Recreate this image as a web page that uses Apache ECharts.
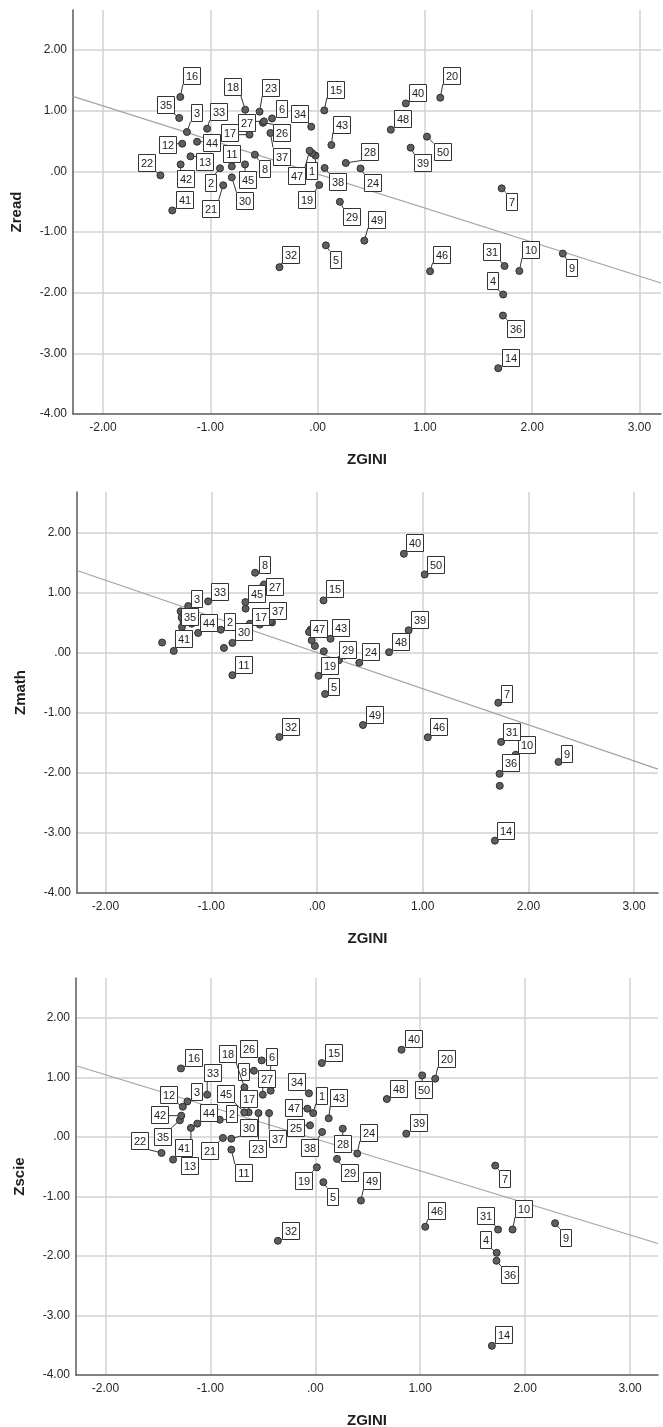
<!DOCTYPE html>
<html>
<head>
<meta charset="utf-8">
<script src="https://cdn.jsdelivr.net/npm/echarts@6/dist/echarts.min.js"></script>
<style>
html,body{margin:0;padding:0;background:#fff;}
#c{width:663px;height:1427px;}
</style>
</head>
<body>
<div id="c"></div>
<script>
// ---- data (case ids 1..50) ----
const ids = Array.from({length: 50}, (_, i) => i + 1);
const zgini = [-0.02,-0.91,-1.218,1.729,0.077,-0.425,1.715,-0.585,2.285,1.88,
  -0.80,-1.262,-1.185,1.683,0.062,-1.28,-0.635,-0.675,0.015,1.143,
  -0.88,-1.465,-0.541,0.40,-0.05,-0.51,-0.50,0.262,0.207,-0.80,
  1.742,-0.356,-1.03,-0.06,-1.29,1.727,-0.44,0.065,0.867,0.822,
  -1.355,-1.277,0.128,-1.124,-0.677,1.048,-0.075,0.682,0.435,1.019];
const zread = [0.26,0.05,0.649,-2.03,-1.22,0.873,-0.28,0.275,-1.356,-1.642,
  0.082,0.456,0.247,-3.245,1.005,1.226,0.605,1.016,-0.224,1.214,
  -0.23,-0.066,0.984,0.047,0.30,0.80,0.824,0.138,-0.502,-0.099,
  -1.56,-1.58,0.703,0.736,0.88,-2.377,0.632,0.056,0.39,1.12,
  -0.645,0.115,0.434,0.489,0.115,-1.647,0.34,0.687,-1.142,0.572];
const zmath = [0.11,0.38,0.773,-2.217,-0.69,0.50,-0.835,1.327,-1.819,-1.70,
  -0.376,0.50,0.48,-3.129,0.867,0.58,0.48,0.73,-0.387,1.45,
  0.077,0.166,0.464,-0.17,0.204,1.10,1.133,-0.05,-0.128,0.16,
  -1.487,-1.405,0.851,0.38,0.685,-2.018,0.519,0.02,0.37,1.642,
  0.027,0.425,0.229,0.325,0.839,-1.41,0.342,0.005,-1.206,1.298];
const zscie = [0.40,0.29,0.597,-1.947,-0.76,0.777,-0.482,1.112,-1.45,-1.556,
  -0.213,0.508,0.151,-3.51,1.241,1.151,0.413,0.832,-0.51,0.978,
  -0.017,-0.269,0.40,-0.28,0.195,1.285,0.71,0.139,-0.369,-0.03,
  -1.556,-1.745,0.71,0.732,0.279,-2.081,0.40,0.083,0.055,1.465,
  -0.381,0.357,0.313,0.223,0.413,-1.51,0.475,0.637,-1.069,1.034];
// fit lines (endpoints at plot edges)
const fitRead = [[-2.28, 1.235], [3.2, -1.84]];
const fitMath = [[-2.27, 1.365], [3.226, -1.94]];
const fitScie = [[-2.28, 1.196], [3.266, -1.79]];
// tick labels
const xTicks = [-2, -1, 0, 1, 2, 3];
const xTickLabels = ['-2.00', '-1.00', '.00', '1.00', '2.00', '3.00'];
const yTicks = [-4, -3, -2, -1, 0, 1, 2];
const yTickLabels = ['-4.00', '-3.00', '-2.00', '-1.00', '.00', '1.00', '2.00'];

// ---- label placement (styling: pixel offset of label box from its point) ----
const readLabelOffsets = {16:[11,-21],35:[-14,-13],3:[9,-19],33:[11,-17],12:[-15,1],44:[14,1],13:[14,5],42:[5,14],22:[-14,-13],41:[12,-11],2:[-10,14],21:[-13,23],11:[0,-13],30:[13,23],45:[2,15],8:[9,14],18:[-13,-23],23:[11,-24],6:[9,-10],27:[-18,1],26:[19,10],17:[-20,-2],37:[11,23],34:[-12,-13],47:[-13,25],1:[-4,15],19:[-13,15],38:[13,14],29:[12,15],15:[11,-21],43:[10,-21],28:[24,-11],24:[12,14],40:[12,-11],20:[11,-22],48:[12,-11],50:[15,15],39:[12,15],7:[10,13],32:[11,-13],5:[9,14],49:[12,-21],46:[11,-17],31:[-13,-14],10:[11,-21],9:[9,14],4:[-11,-14],36:[13,13],14:[12,-11]};
const mathLabelOffsets = {8:[9,-8],27:[10,2],45:[11,-9],33:[11,-10],3:[8,-8],35:[9,5],44:[10,-10],41:[10,-12],2:[9,-8],30:[11,-11],11:[11,-11],17:[11,-7],37:[7,-11],15:[11,-12],47:[9,-3],43:[10,-11],19:[11,-10],5:[8,-8],29:[9,-11],40:[11,-11],50:[11,-10],39:[11,-11],48:[11,-11],24:[11,-11],7:[8,-9],49:[11,-11],32:[11,-10],46:[11,-11],31:[10,-10],10:[11,-10],9:[8,-8],36:[11,-11],14:[11,-10]};
const scieLabelOffsets = {16:[13,-11],12:[-14,-12],3:[9,-10],33:[5,-22],42:[-22,-1],35:[-17,16],22:[-22,-12],41:[10,-12],13:[-1,38],44:[11,-11],45:[-19,-19],2:[12,-6],30:[17,-11],21:[-13,13],11:[12,23],18:[-17,-34],26:[-13,-12],6:[1,-34],8:[-11,1],27:[4,-16],17:[0,-14],23:[-1,35],37:[8,25],34:[-13,-12],47:[-14,-1],1:[8,-18],25:[-15,2],38:[-13,16],19:[-13,13],5:[9,14],15:[12,-11],43:[10,-21],28:[0,15],29:[12,14],24:[11,-21],40:[12,-11],20:[11,-20],50:[1,14],48:[12,-11],39:[12,-11],7:[9,13],49:[11,-20],46:[11,-16],32:[13,-10],31:[-13,-14],10:[11,-21],9:[10,14],4:[-11,-13],36:[13,14],14:[12,-11]};

const FONT = '"Liberation Sans", Arial, Helvetica, sans-serif';
const grids = [
  {left: 73, top: 10, width: 588, height: 404, containLabel: false, outerBoundsMode: 'none'},
  {left: 77, top: 492, width: 581, height: 401, containLabel: false, outerBoundsMode: 'none'},
  {left: 76, top: 978, width: 582, height: 397, containLabel: false, outerBoundsMode: 'none'}
];
const xRanges = [[-2.28, 3.2], [-2.27, 3.226], [-2.28, 3.266]];
const yRanges = [[-4, 2.66], [-4, 2.67], [-4, 2.67]];
const yNames = ['Zread', 'Zmath', 'Zscie'];
const ySets = [zread, zmath, zscie];
const fits = [fitRead, fitMath, fitScie];
const offsetSets = [readLabelOffsets, mathLabelOffsets, scieLabelOffsets];

function tickFmt(ticks, labels) {
  return function (v) {
    const i = ticks.findIndex(t => Math.abs(t - v) < 1e-6);
    return i >= 0 ? labels[i] : '';
  };
}

const xAxes = [], yAxes = [], series = [];
grids.forEach((g, gi) => {
  xAxes.push({
    type: 'value', gridIndex: gi, min: xRanges[gi][0], max: xRanges[gi][1],
    minInterval: 1, maxInterval: 1, splitNumber: 5,
    axisLine: {show: true, onZero: false, lineStyle: {color: '#5a5a5a', width: 1.5}},
    axisTick: {show: false},
    splitLine: {show: true, showMinLine: false, showMaxLine: false, lineStyle: {color: '#d2d2d2', width: 1.5}},
    axisLabel: {formatter: tickFmt(xTicks, xTickLabels), color: '#262626', fontSize: 12, fontFamily: FONT, margin: 8, showMinLabel: true, showMaxLabel: true},
    name: 'ZGINI', nameLocation: 'middle', nameGap: 38,
    nameTextStyle: {fontWeight: 'bold', fontSize: 15, color: '#1e1e1e', fontFamily: FONT}
  });
  yAxes.push({
    type: 'value', gridIndex: gi, min: yRanges[gi][0], max: yRanges[gi][1],
    minInterval: 1, maxInterval: 1, splitNumber: 6,
    axisLine: {show: true, onZero: false, lineStyle: {color: '#5a5a5a', width: 1.5}},
    axisTick: {show: false},
    splitLine: {show: true, showMinLine: false, showMaxLine: false, lineStyle: {color: '#d2d2d2', width: 1.5}},
    axisLabel: {formatter: tickFmt(yTicks, yTickLabels), color: '#262626', fontSize: 12, fontFamily: FONT, margin: 6, showMinLabel: true, showMaxLabel: true},
    name: yNames[gi], nameLocation: 'middle', nameGap: 49,
    nameTextStyle: {fontWeight: 'bold', fontSize: 15, color: '#1e1e1e', fontFamily: FONT}
  });
  // fit line
  series.push({
    type: 'line', xAxisIndex: gi, yAxisIndex: gi, data: fits[gi], symbol: 'none',
    silent: true, z: 2, lineStyle: {color: '#a3a3a3', width: 1.2}
  });
  // points
  series.push({
    type: 'scatter', xAxisIndex: gi, yAxisIndex: gi, z: 3, silent: true,
    data: zgini.map((x, i) => [x, ySets[gi][i]]),
    symbol: 'circle', symbolSize: 7,
    itemStyle: {color: '#5e5e5e', borderColor: '#2e2e2e', borderWidth: 1, opacity: 1}
  });
  // labels with leader lines
  const offs = offsetSets[gi];
  series.push({
    type: 'custom', xAxisIndex: gi, yAxisIndex: gi, z: 5, silent: true, clip: false,
    data: zgini.map((x, i) => [x, ySets[gi][i], ids[i]]),
    encode: {x: 0, y: 1},
    renderItem: function (params, api) {
      const id = api.value(2);
      const off = offs[id];
      if (!off) return null;
      const p = api.coord([api.value(0), api.value(1)]);
      const cx = p[0] + off[0], cy = p[1] + off[1];
      const txt = String(id);
      const w = txt.length * 6.2 + 4.5, h = 17;
      const bx = Math.max(cx - w / 2, Math.min(p[0], cx + w / 2));
      const by = Math.max(cy - h / 2, Math.min(p[1], cy + h / 2));
      const dx = bx - p[0], dy = by - p[1];
      const d = Math.hypot(dx, dy);
      const children = [];
      if (d > 4) {
        children.push({type: 'line', shape: {x1: p[0] + dx / d * 3.5, y1: p[1] + dy / d * 3.5, x2: bx, y2: by},
          style: {stroke: '#333', lineWidth: 1}});
      }
      const rx = Math.round(cx - w / 2) + 0.5, rw = Math.round(w);
      children.push({type: 'rect', shape: {x: rx, y: Math.round(cy - h / 2) + 0.5, width: rw, height: h},
        style: {fill: '#fff', stroke: '#333', lineWidth: 1}});
      children.push({type: 'text', style: {text: txt, x: rx + rw / 2, y: Math.round(cy - h / 2) + 0.5 + h / 2 + 0.5, align: 'center', verticalAlign: 'middle',
        fontSize: 11, fontFamily: FONT, fill: '#1e1e1e'}});
      return {type: 'group', children: children};
    }
  });
});

const chart = echarts.init(document.getElementById('c'), null, {renderer: 'canvas'});
chart.setOption({
  animation: false,
  backgroundColor: '#fff',
  grid: grids,
  xAxis: xAxes,
  yAxis: yAxes,
  series: series
});
</script>
</body>
</html>
